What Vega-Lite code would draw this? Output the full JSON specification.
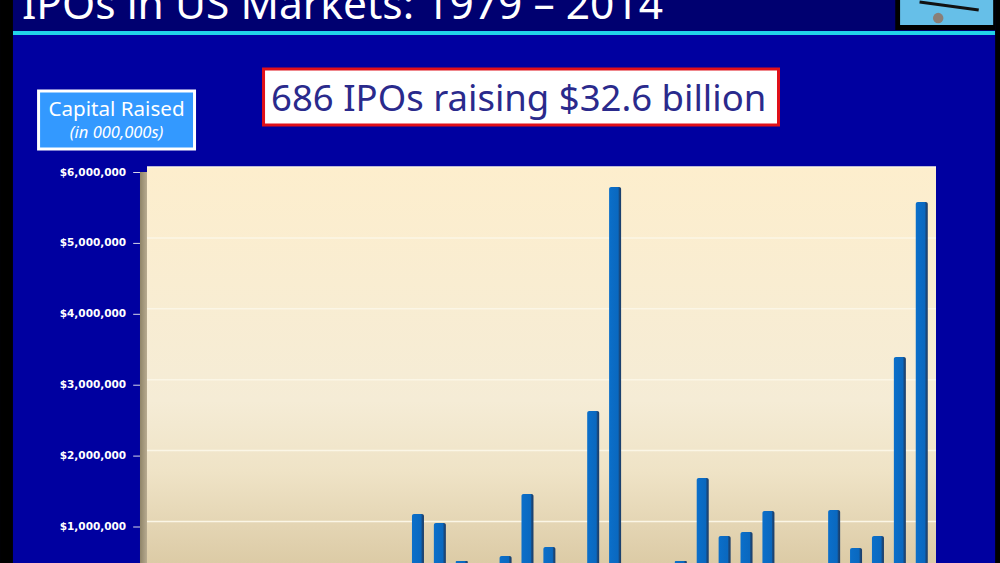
{
"$schema":"https://vega.github.io/schema/vega-lite/v6.json",
"width":789,"height":396,
"autosize":{"type":"none"},
"padding":{"left":147,"top":167,"right":64,"bottom":0},
"background":"#0000a0",
"config":{"view":{"stroke":null}},
"datasets":{
"ipo":[
{"year":1991,"capital":1106000},{"year":1992,"capital":979000},{"year":1993,"capital":443000},
{"year":1995,"capital":513000},{"year":1996,"capital":1388000},{"year":1997,"capital":640000},
{"year":1999,"capital":2559000},{"year":2000,"capital":5718000},{"year":2003,"capital":443000},
{"year":2004,"capital":1614000},{"year":2005,"capital":795000},{"year":2006,"capital":852000},
{"year":2007,"capital":1148000},{"year":2010,"capital":1162000},{"year":2011,"capital":626000},
{"year":2012,"capital":795000},{"year":2013,"capital":3320000},{"year":2014,"capital":5506000}],
"grid":[{"level":1000000},{"level":2000000},{"level":3000000},{"level":4000000},{"level":5000000},{"level":6000000}],
"one":[{"k":1}]
},
"layer":[
{"data":{"name":"one"},"mark":{"type":"rect","fill":"#000070"},
 "encoding":{"x":{"datum":1971.92,"axis":null,"scale":{"domain":[1978.63,2014.65],"padding":0}},"x2":{"datum":2017.58},"y":{"datum":8355368,"axis":null,"scale":{"domain":[414816,6000000]}},"y2":{"datum":7918144}}},
{"data":{"name":"one"},"mark":{"type":"rect","fill":"#22d3e8"},
 "encoding":{"x":{"datum":1972.51,"axis":null,"scale":{"domain":[1978.63,2014.65],"padding":0}},"x2":{"datum":2017.35},"y":{"datum":7918144,"axis":null,"scale":{"domain":[414816,6000000]}},"y2":{"datum":7861728}}},
{"data":{"name":"one"},"mark":{"type":"rect","fill":"#000000"},
 "encoding":{"x":{"datum":1971.92,"axis":null,"scale":{"domain":[1978.63,2014.65],"padding":0}},"x2":{"datum":1972.51},"y":{"datum":8355368,"axis":null,"scale":{"domain":[414816,6000000]}},"y2":{"datum":414816}}},
{"data":{"name":"one"},"mark":{"type":"rect","fill":"#000000"},
 "encoding":{"x":{"datum":2017.35,"axis":null,"scale":{"domain":[1978.63,2014.65],"padding":0}},"x2":{"datum":2017.58},"y":{"datum":8355368,"axis":null,"scale":{"domain":[414816,6000000]}},"y2":{"datum":414816}}},
{"data":{"name":"one"},"mark":{"type":"rect","fill":"#000000"},
 "encoding":{"x":{"datum":2012.79,"axis":null,"scale":{"domain":[1978.63,2014.65],"padding":0}},"x2":{"datum":2017.35},"y":{"datum":8355368,"axis":null,"scale":{"domain":[414816,6000000]}},"y2":{"datum":7932248}}},
{"data":{"name":"one"},"mark":{"type":"rect","fill":"#66bfe8"},
 "encoding":{"x":{"datum":2013.01,"axis":null,"scale":{"domain":[1978.63,2014.65],"padding":0}},"x2":{"datum":2017.26},"y":{"datum":8355368,"axis":null,"scale":{"domain":[414816,6000000]}},"y2":{"datum":8002768}}},
{"data":{"name":"one"},"mark":{"type":"rule","stroke":"#111111","strokeWidth":3},
 "encoding":{"x":{"datum":2013.9,"axis":null,"scale":{"domain":[1978.63,2014.65],"padding":0}},"x2":{"datum":2016.6},"y":{"datum":8328000,"axis":null,"scale":{"domain":[414816,6000000]}},"y2":{"datum":8215000}}},
{"data":{"name":"one"},"mark":{"type":"point","filled":true,"fill":"#8a7f78","size":110,"opacity":1},
 "encoding":{"x":{"datum":2014.75,"axis":null,"scale":{"domain":[1978.63,2014.65],"padding":0}},"y":{"datum":8100000,"axis":null,"scale":{"domain":[414816,6000000]}}}},
{"data":{"values":[{"label":"IPOs in US Markets: 1979 – 2014"}]},
 "mark":{"type":"text","align":"left","baseline":"alphabetic","font":"Noto Sans","fontSize":42.5,"fill":"#ffffff"},
 "encoding":{"text":{"field":"label"},"x":{"datum":1972.92,"axis":null,"scale":{"domain":[1978.63,2014.65],"padding":0}},"y":{"datum":8087392,"axis":null,"scale":{"domain":[414816,6000000]}}}},
{"data":{"name":"one"},"mark":{"type":"rect","fill":"#ffffff","stroke":"#e0101a","strokeWidth":3},
 "encoding":{"x":{"datum":1983.95,"axis":null,"scale":{"domain":[1978.63,2014.65],"padding":0}},"x2":{"datum":2007.46},"y":{"datum":7382000,"axis":null,"scale":{"domain":[414816,6000000]}},"y2":{"datum":6592000}}},
{"data":{"values":[{"label":"686 IPOs raising $32.6 billion"}]},
 "mark":{"type":"text","align":"center","baseline":"middle","font":"Noto Sans","fontSize":36.5,"fill":"#2a2a8c"},
 "encoding":{"text":{"field":"label"},"x":{"datum":1995.6,"axis":null,"scale":{"domain":[1978.63,2014.65],"padding":0}},"y":{"datum":6944968,"axis":null,"scale":{"domain":[414816,6000000]}}}},
{"data":{"name":"one"},"mark":{"type":"rect","fill":"#3399ff","stroke":"#ffffff","strokeWidth":3},
 "encoding":{"x":{"datum":1973.68,"axis":null,"scale":{"domain":[1978.63,2014.65],"padding":0}},"x2":{"datum":1980.8},"y":{"datum":7072000,"axis":null,"scale":{"domain":[414816,6000000]}},"y2":{"datum":6254000}}},
{"data":{"values":[{"label":"Capital Raised"}]},
 "mark":{"type":"text","align":"center","baseline":"middle","font":"Noto Sans","fontSize":20.6,"fill":"#ffffff"},
 "encoding":{"text":{"field":"label"},"x":{"datum":1977.24,"axis":null,"scale":{"domain":[1978.63,2014.65],"padding":0}},"y":{"datum":6803928,"axis":null,"scale":{"domain":[414816,6000000]}}}},
{"data":{"values":[{"label":"(in 000,000s)"}]},
 "mark":{"type":"text","align":"center","baseline":"middle","font":"Noto Sans","fontSize":16.5,"fontStyle":"italic","fill":"#ffffff"},
 "encoding":{"text":{"field":"label"},"x":{"datum":1977.24,"axis":null,"scale":{"domain":[1978.63,2014.65],"padding":0}},"y":{"datum":6479536,"axis":null,"scale":{"domain":[414816,6000000]}}}},
{"data":{"name":"one"},"mark":{"type":"rect","fill":{"gradient":"linear","x1":0,"x2":1,"y1":0,"y2":0,"stops":[{"offset":0,"color":"#8f8468"},{"offset":1,"color":"#b8ab90"}]}},
 "encoding":{"x":{"datum":1978.31,"axis":null,"scale":{"domain":[1978.63,2014.65],"padding":0}},"x2":{"datum":1978.63},"y":{"datum":5929480,"axis":null,"scale":{"domain":[414816,6000000]}},"y2":{"datum":414816}}},
{"data":{"name":"one"},"mark":{"type":"rect","fill":{"gradient":"linear","x1":0,"x2":0,"y1":0,"y2":1,"stops":[{"offset":0,"color":"#fdeecd"},{"offset":0.59,"color":"#f5ecd6"},{"offset":0.77,"color":"#efe3c6"},{"offset":1,"color":"#dccba6"}]}},
 "encoding":{"x":{"datum":1978.63,"axis":null,"scale":{"domain":[1978.63,2014.65],"padding":0}},"x2":{"datum":2014.65},"y":{"datum":6000000,"axis":null,"scale":{"domain":[414816,6000000]}},"y2":{"datum":414816}}},
{"data":{"name":"grid"},"mark":{"type":"rule","stroke":"#fbf6e6","strokeWidth":1.5},
 "encoding":{"y":{"field":"level","type":"quantitative","axis":null,"scale":{"domain":[414816,6000000]}}}},
{"data":{"name":"grid"},"mark":{"type":"rule","stroke":"#d8d8e8","strokeWidth":1,"yOffset":5.5},
 "encoding":{"x":{"datum":1978.0,"axis":null,"scale":{"domain":[1978.63,2014.65],"padding":0}},"x2":{"datum":1978.31},"y":{"field":"level","type":"quantitative","axis":null,"scale":{"domain":[414816,6000000]}}}},
{"data":{"name":"grid"},"mark":{"type":"text","align":"right","baseline":"middle","yOffset":5.5,"font":"DejaVu Sans","fontWeight":"bold","fontSize":10.5,"fill":"#ffffff"},
 "encoding":{"text":{"field":"level","type":"quantitative","format":"$,d"},"x":{"datum":1977.68,"axis":null,"scale":{"domain":[1978.63,2014.65],"padding":0}},"y":{"field":"level","type":"quantitative","axis":null,"scale":{"domain":[414816,6000000]}}}},
{"data":{"name":"ipo"},
 "mark":{"type":"bar","orient":"vertical","size":12,"clip":true,"cornerRadiusTopLeft":2,"cornerRadiusTopRight":2,
  "fill":{"gradient":"linear","x1":0,"x2":1,"y1":0,"y2":0,"stops":[{"offset":0,"color":"#0b6fca"},{"offset":0.75,"color":"#0a68bf"},{"offset":0.85,"color":"#184a80"},{"offset":1,"color":"#1c3c66"}]}},
 "encoding":{"x":{"field":"year","type":"quantitative","axis":null,"scale":{"domain":[1978.63,2014.65],"padding":0}},
  "y":{"field":"capital","type":"quantitative","stack":null,"axis":null,"scale":{"domain":[414816,6000000]}}}}
]
}
